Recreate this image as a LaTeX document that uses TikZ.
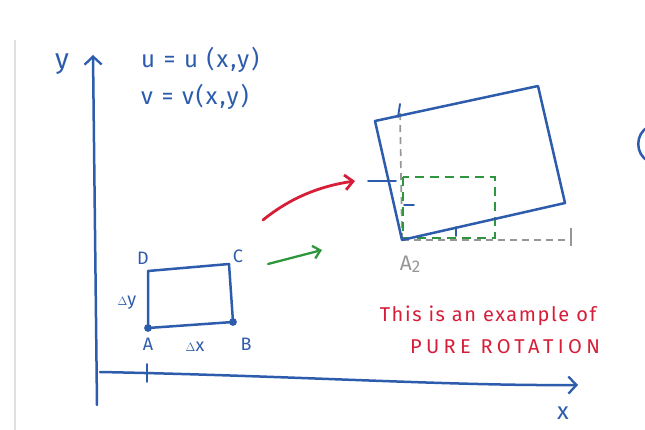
\documentclass[tikz,border=0pt]{standalone}
\usepackage{fontspec}
\setmainfont{Fira Sans}
\usetikzlibrary{arrows.meta}
\definecolor{pen}{RGB}{45,92,172}
\definecolor{redpen}{RGB}{214,30,56}
\definecolor{greenpen}{RGB}{46,150,60}
\definecolor{dashgray}{RGB}{150,150,150}
\tikzset{
  ink/.style={draw=pen, line width=2.5pt, line cap=round, line join=round},
  barb/.style={-{Straight Barb[length=8pt,width=17pt,line width=2.3pt]}},
  lbl/.style={text=pen, font=\fontsize{18}{20}\selectfont, inner sep=0pt},
  eq/.style={text=pen, font=\fontsize{24}{26}\selectfont\addfontfeature{LetterSpace=9}, inner sep=0pt, anchor=west},
  note/.style={text=redpen, font=\fontsize{20}{22}\selectfont\addfontfeature{LetterSpace=8}, inner sep=0pt},
  guide/.style={draw=dashgray, line width=1.7pt, dash pattern=on 7pt off 5pt},
  gbox/.style={draw=greenpen, line width=2.1pt, dash pattern=on 9pt off 6pt},
}
\begin{document}
\begin{tikzpicture}[x=1pt,y=-1pt]
\useasboundingbox (0,0) rectangle (645,430);
% screen edge
\draw[draw=black!12, line width=2pt] (15,40) -- (15,430);
% axes
\coordinate (O1) at (97,405);
\coordinate (Ytop) at (93,55);
\coordinate (X0) at (100,372);
\coordinate (Xend) at (578,385);
\draw[ink, barb] (O1) -- (Ytop);
\draw[ink, barb] (X0) .. controls (300,376) and (450,386) .. (Xend);
\node[lbl, font=\fontsize{28}{30}\selectfont] (ylab) at (62,64) {y};
\node[lbl, font=\fontsize{24}{26}\selectfont] (xlab) at (563,413) {x};
\coordinate (t1) at (147,364);
\coordinate (t2) at (147,382);
\draw[ink, line width=1.9pt] (t1) -- (t2);
% equations
\node[eq] (eq1) at (141,60) {u = u (x,y)};
\node[eq] (eq2) at (141,97) {v = v(x,y)};
% original element
\coordinate (A) at (148,328);
\coordinate (B) at (233,322);
\coordinate (C) at (229,264);
\coordinate (D) at (148,271);
\draw[ink] (A) -- (B) -- (C) -- (D) -- cycle;
\fill[pen] (A) circle (3.9pt);
\fill[pen] (B) circle (3.9pt);
\node[lbl] (lD) at (143,258) {D};
\node[lbl] (lC) at (238,256) {C};
\node[lbl] (lA) at (148,344) {A};
\node[lbl] (lB) at (246,344) {B};
\node[lbl] (ldx) at (195,347) {$\scriptstyle\Delta$x};
\node[lbl] (ldy) at (127,303) {$\scriptstyle\Delta$y};
% arrows
\coordinate (g1) at (268,264);
\coordinate (g2) at (322,250);
\draw[draw=greenpen, line width=2.3pt, line cap=round, -{Straight Barb[length=7pt,width=13pt,line width=2.3pt]}] (g1) -- (g2);
\coordinate (r1) at (263,220);
\coordinate (r2) at (355,181);
\draw[draw=redpen, line width=2.8pt, line cap=round, -{Straight Barb[length=8pt,width=15pt,line width=2.8pt]}] (r1) .. controls (290,198) and (320,186) .. (r2);
% rotated element
\coordinate (P1) at (402,240);
\coordinate (P2) at (565,203);
\coordinate (P3) at (538,86);
\coordinate (P4) at (375,121);
\coordinate (Vtop) at (400,110);
\coordinate (Hend) at (570,240);
\draw[guide] (P1) -- (Vtop);
\draw[guide] (P1) -- (Hend);
\coordinate (hr1) at (571,228);
\coordinate (hr2) at (571,246);
\draw[draw=dashgray, line width=1.7pt] (hr1) -- (hr2);
\coordinate (G1) at (403,177);
\coordinate (G2) at (495,238);
\draw[gbox] (G1) rectangle (G2);
\draw[ink] (P1) -- (P2) -- (P3) -- (P4) -- cycle;
% small ticks
\coordinate (k1) at (368,181);
\coordinate (k2) at (396,181);
\draw[ink, line width=1.9pt] (k1) -- (k2);
\coordinate (k3) at (398,117);
\coordinate (k4) at (400,104);
\draw[ink, line width=1.9pt] (k3) -- (k4);
\coordinate (k5) at (456,227);
\coordinate (k6) at (456,236);
\draw[ink, line width=1.9pt] (k5) -- (k6);
\coordinate (k7) at (404,205);
\coordinate (k8) at (414,205);
\draw[ink, line width=1.9pt] (k7) -- (k8);
\node[text=dashgray, font=\fontsize{21}{23}\selectfont, inner sep=0pt] (lA2) at (410,264) {A\raisebox{-2pt}{\fontsize{17}{19}\selectfont 2}};
% note
\node[note] (n1) at (488,316) {This is an example of};
\node[note, font=\fontsize{20}{22}\selectfont\addfontfeature{LetterSpace=22}] (n2) at (505,347) {PURE ROTATION};
% partial bracket at right edge
\coordinate (b1) at (648,127);
\coordinate (b2) at (648,161);
\draw[ink] (b1) .. controls (635,134) and (635,154) .. (b2);
\end{tikzpicture}
\end{document}
